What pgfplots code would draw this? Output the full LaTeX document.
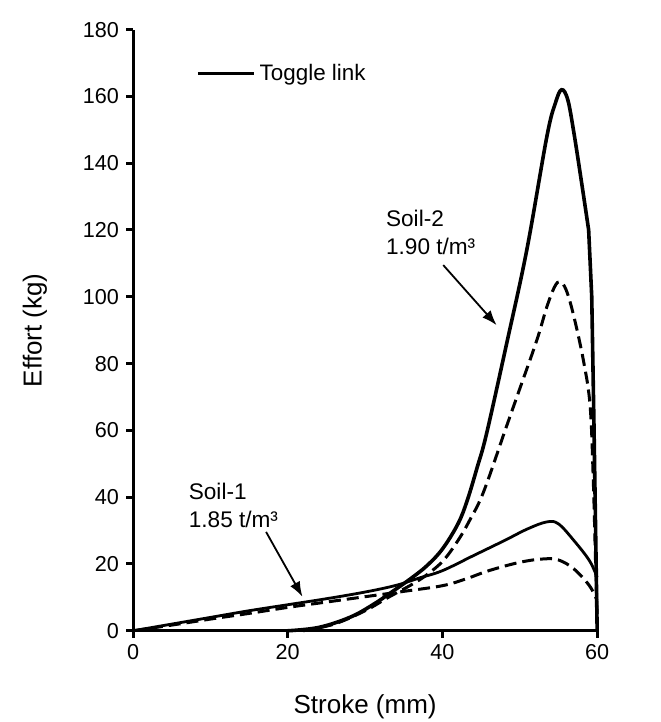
\documentclass[border=0pt]{standalone}
\usepackage{pgfplots}
\pgfplotsset{compat=1.18}
\usetikzlibrary{arrows.meta}
\usepackage{fontspec}
\setmainfont{Liberation Sans}
\begin{document}
\begin{tikzpicture}
\useasboundingbox (-66.5pt,-45.6pt) rectangle (263.5pt,315.3pt);
\begin{axis}[
  at={(0,0)}, anchor=south west,
  scale only axis, width=232pt, height=300.5pt,
  xmin=0, xmax=60, ymin=0, ymax=180,
  axis x line=bottom, axis y line=left,
  axis line style={-, line width=1.5pt},
  xtick={0,20,40,60}, ytick={0,20,...,180},
  tick align=outside, major tick length=3.5pt,
  tick style={line width=1.5pt, black},
  /pgf/number format/assume math mode=true,
  ticklabel style={font=\fontsize{10.8}{12}\selectfont},
  xlabel={Stroke (mm)}, ylabel={Effort (kg)},
  label style={font=\fontsize{13}{15}\selectfont},
  xlabel style={at={(0.5,-0.095)}, anchor=north},
  ylabel style={at={(-0.17,0.5)}, anchor=south},
  clip=false,
  legend style={at={(0.135,0.927)}, anchor=west, draw=none, fill=none,
    font=\fontsize{11.2}{13}\selectfont, inner sep=0pt},
  legend cell align=left,
  legend image code/.code={\draw[line width=1.8pt] (0pt,0pt) -- (28pt,0pt);},
]
% Soil-2 solid
\addplot[line width=1.8pt, smooth, tension=0.6] coordinates {
 (20,0) (24,1) (28,4) (31,7.8) (34,12.5) (36,15.8) (38,19.5) (40,24.5) (42,32)
 (43.2,39) (44.5,49) (45.7,59) (48.3,86) (50.9,114) (53.5,148) (54.6,158)
 (55.4,162) (56.2,159) (57,149) (58,134) (58.9,120)};
\addlegendentry{Toggle link}
\addplot[line width=1.8pt, forget plot] coordinates {
 (58.9,120) (59.3,100) (59.6,60) (60,0)};
% Soil-2 dashed
\addplot[line width=1.5pt, dash pattern=on 6pt off 3pt, smooth, tension=0.6, forget plot] coordinates {
 (22,0) (26,2) (30,6) (33,10) (36,13.8) (38,16.8) (40.1,21) (42,27) (43.5,33)
 (45.3,41.5) (48.1,60) (50,72.5) (52.2,87) (53.5,97) (54.5,103) (55.2,104.5)
 (56,102) (57,94) (58.3,80) (59.1,67) (59.5,45) (59.8,20) (60,5)};
% Soil-1 solid
\addplot[line width=1.4pt, smooth, tension=0.6, forget plot] coordinates {
 (0,0) (5,2) (10,4) (15,6) (20,7.8) (25,9.6) (30,11.6) (34,13.6) (37,15.8)
 (40,18) (44,22.5) (48,27) (51,30.5) (53.5,32.6) (55,32) (57,27)
 (59,21) (60,16)};
% Soil-1 dashed
\addplot[line width=1.5pt, dash pattern=on 6pt off 3pt, smooth, tension=0.6, forget plot] coordinates {
 (0,0) (5,1.7) (10,3.5) (15,5.2) (20,7) (25,8.6) (30,10.2) (35,11.8) (40,13.5)
 (43,15.5) (46,18) (50,20.5) (53,21.5) (55,21.2) (57,18.5) (59,13.5) (60,9)};
% annotations
\node[anchor=west, align=left, font=\fontsize{11.3}{14}\selectfont] at (axis cs:31.8,119.3) {Soil-2\\1.90 t/m³};
\draw[-{Latex[length=7.5pt,width=5.5pt]}, line width=0.9pt] (axis cs:40.1,109.5) -- (axis cs:47.0,91.5);
\node[anchor=west, align=left, font=\fontsize{11.3}{14}\selectfont] at (axis cs:6.3,37.4) {Soil-1\\1.85 t/m³};
\draw[-{Latex[length=7.5pt,width=5.5pt]}, line width=0.9pt] (axis cs:17.2,29.6) -- (axis cs:21.9,10.2);
\end{axis}
\end{tikzpicture}
\end{document}
